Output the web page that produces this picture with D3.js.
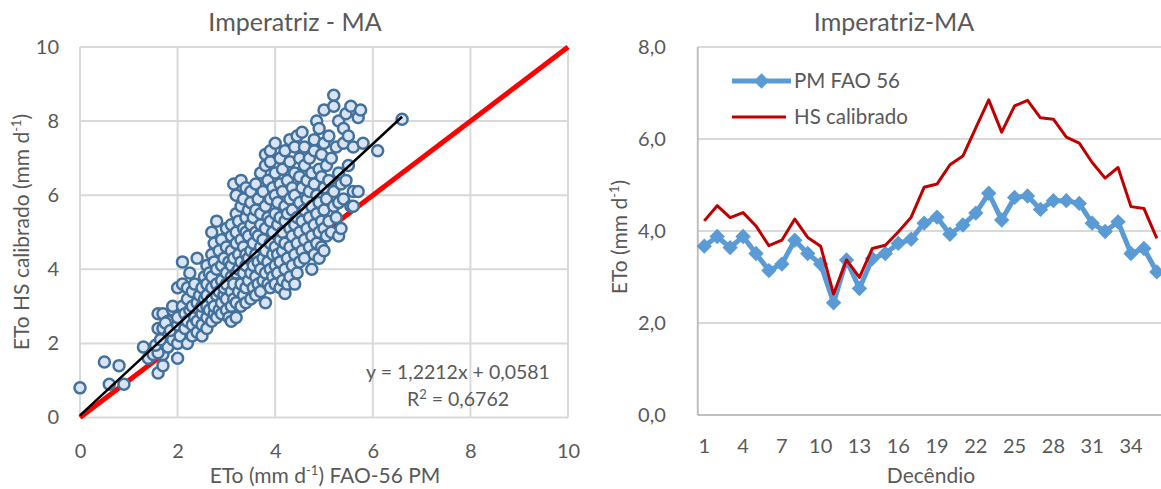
<!DOCTYPE html>
<html>
<head>
<meta charset="utf-8">
<script src="https://cdn.jsdelivr.net/npm/d3@7"></script>
<style>
  body { margin: 0; background: #fff; }
  text { font-family: Lato, "Open Sans", sans-serif; fill: #595959; }
</style>
</head>
<body>
<div id="chart"></div>
<script>
(function(){

	var width = 1161;
	var height = 489;

	// scatter: ETo FAO-56 PM (x) vs ETo HS calibrado (y)
	var scatterPts = [
		[0,0.8],[0.5,1.5],[0.8,1.4],[0.6,0.9],[0.9,0.9],
		[1.3,1.9],[1.4,1.6],[1.5,1.7],[1.6,1.2],[1.6,2.4],[1.6,2.8],[1.7,1.4],[1.7,1.7],[1.7,2.0],[1.7,2.4],[1.7,2.8],
		[1.8,1.9],[1.8,2.2],[1.8,2.6],[1.9,2.1],[1.9,2.9],[1.9,3.0],[1.6,1.75],[1.55,1.95],[1.75,2.55],[1.85,2.35],[1.65,2.1],
		[2.0,1.6],[2.0,2.0],[2.0,2.5],[2.0,2.7],[2.0,3.5],[2.05,2.2],[2.1,3.0],[2.1,3.6],[2.1,4.2],[2.15,2.4],[2.15,2.8],
		[2.2,2.0],[2.2,2.6],[2.2,3.2],[2.2,3.5],[2.25,2.9],[2.25,3.9],[2.3,2.2],[2.3,2.5],[2.3,3.0],[2.3,3.4],[2.35,2.7],
		[2.35,3.6],[2.4,2.3],[2.4,2.6],[2.4,3.1],[2.4,4.3],[2.45,2.9],[2.45,3.3],[2.5,2.2],[2.5,2.5],[2.5,2.8],[2.5,3.5],
		[2.5,3.0],[2.55,3.2],[2.55,3.8],
		[2.6,2.4],[2.6,2.7],[2.6,3.0],[2.6,3.3],[2.6,3.6],[2.6,4.1],[2.65,2.9],[2.65,3.9],[2.7,2.6],[2.7,3.2],[2.7,3.5],
		[2.7,3.8],[2.7,4.4],[2.7,5.0],[2.75,2.8],[2.75,3.0],[2.75,4.2],[2.75,4.7],[2.8,2.7],[2.8,3.3],[2.8,3.6],[2.8,4.0],
		[2.8,5.3],[2.85,2.9],[2.85,3.4],[2.85,4.5],[2.9,2.8],[2.9,3.1],[2.9,3.7],[2.9,4.1],[2.9,4.8],[2.95,3.3],[2.95,3.5],
		[2.95,4.3],[3.0,2.9],[3.0,3.2],[3.0,3.6],[3.0,3.9],[3.0,4.6],[3.0,5.1],[3.05,2.7],[3.05,4.2],
		[3.1,2.6],[3.1,3.0],[3.1,3.4],[3.1,3.8],[3.1,4.1],[3.1,4.5],[3.1,4.9],[3.1,5.2],[3.15,3.2],[3.15,3.6],[3.15,4.3],
		[3.15,6.3],[3.2,2.7],[3.2,3.1],[3.2,3.9],[3.2,4.7],[3.2,5.0],[3.2,5.5],[3.2,6.0],[3.25,3.4],[3.25,4.0],[3.25,4.4],
		[3.25,5.3],[3.3,3.0],[3.3,3.6],[3.3,4.2],[3.3,4.8],[3.3,5.7],[3.3,6.4],[3.35,3.3],[3.35,3.9],[3.35,4.6],[3.35,5.1],
		[3.35,5.9],[3.4,3.1],[3.4,3.5],[3.4,4.1],[3.4,4.4],[3.4,5.0],[3.4,5.4],[3.4,6.2],[3.45,3.7],[3.45,4.3],[3.45,4.9],
		[3.45,5.6],[3.5,3.2],[3.5,3.9],[3.5,4.5],[3.5,5.2],[3.5,5.8],[3.5,6.1],
		[3.55,3.5],[3.55,4.1],[3.55,4.7],[3.55,5.4],[3.6,3.3],[3.6,3.8],[3.6,4.4],[3.6,5.0],[3.6,5.6],[3.6,6.3],[3.65,3.6],
		[3.65,4.2],[3.65,4.9],[3.65,5.9],[3.7,3.4],[3.7,4.0],[3.7,4.6],[3.7,5.2],[3.7,5.5],[3.7,6.6],[3.75,3.7],[3.75,4.3],
		[3.75,4.8],[3.75,6.1],[3.8,3.1],[3.8,3.9],[3.8,4.5],[3.8,5.1],[3.8,5.7],[3.8,6.8],[3.8,7.1],[3.85,3.6],[3.85,4.2],
		[3.85,5.4],[3.85,6.4],[3.9,3.5],[3.9,4.0],[3.9,4.7],[3.9,5.3],[3.9,5.9],[3.9,6.9],[3.9,7.2],[3.95,3.8],[3.95,4.4],
		[3.95,5.0],[3.95,6.2],[4.0,3.6],[4.0,4.1],[4.0,4.6],[4.0,5.5],[4.0,6.0],[4.0,6.6],[4.0,7.4],
		[4.05,3.9],[4.05,4.4],[4.05,5.2],[4.05,5.8],[4.1,3.5],[4.1,4.2],[4.1,4.8],[4.1,5.4],[4.1,6.3],[4.1,7.0],[4.15,3.7],
		[4.15,4.5],[4.15,5.0],[4.15,6.1],[4.15,6.7],[4.2,3.35],[4.2,4.0],[4.2,4.7],[4.2,5.3],[4.2,5.7],[4.2,7.2],[4.25,3.6],
		[4.25,4.3],[4.25,5.5],[4.25,6.4],[4.3,3.8],[4.3,4.6],[4.3,5.1],[4.3,5.9],[4.3,6.9],[4.3,7.5],[4.35,4.1],[4.35,4.9],
		[4.35,5.6],[4.35,6.2],[4.4,3.6],[4.4,4.4],[4.4,5.2],[4.4,6.0],[4.4,6.6],[4.4,7.3],[4.45,3.9],[4.45,4.7],[4.45,5.4],
		[4.45,7.6],[4.5,4.2],[4.5,5.0],[4.5,5.8],[4.5,6.5],[4.5,7.0],
		[4.55,4.5],[4.55,5.3],[4.55,6.2],[4.55,7.7],[4.6,4.3],[4.6,4.8],[4.6,5.6],[4.6,6.8],[4.6,7.3],[4.65,5.1],[4.65,5.9],
		[4.65,6.4],[4.7,4.6],[4.7,5.4],[4.7,6.1],[4.7,7.0],[4.75,4.0],[4.75,4.9],[4.75,5.7],[4.75,6.6],[4.8,4.4],[4.8,5.2],
		[4.8,6.3],[4.8,7.2],[4.8,7.5],[4.85,4.7],[4.85,5.5],[4.85,6.0],[4.85,8.0],[4.9,4.3],[4.9,5.0],[4.9,5.8],[4.9,6.7],
		[4.9,7.8],[4.95,4.6],[4.95,5.3],[4.95,6.5],[4.95,7.1],[5.0,4.5],[5.0,5.1],[5.0,5.6],[5.0,6.2],[5.0,8.3],[5.0,7.4],
		[5.05,4.9],[5.05,5.9],[5.05,6.8],[5.1,5.3],[5.1,6.4],[5.1,7.6],[5.15,5.0],[5.15,7.0],[5.2,5.7],[5.2,6.1],[5.2,8.7],
		[5.2,8.4],[5.25,5.4],[5.25,7.3],[5.3,4.9],[5.3,5.8],[5.3,6.6],[5.3,8.0],[5.35,5.1],[5.35,6.3],[5.4,5.9],[5.4,7.8],
		[5.4,7.4],[5.45,6.4],[5.45,8.2],[5.5,6.8],[5.5,7.6],[5.55,5.7],[5.55,8.4],[5.6,6.1],[5.6,5.7],[5.6,7.3],[5.7,6.1],
		[5.7,8.1],[5.75,8.3],[5.8,7.4],[6.1,7.2],[6.6,8.05]
	];
	var trendSlope = 1.2212;
	var trendIntercept = 0.0581;
	var trendRange = [0, 6.6];
	var scatterTicks = [0, 2, 4, 6, 8, 10];

	// decendial series
	var decendios = d3.range(1, 37);
	var pmFao56 = [3.67,3.88,3.64,3.88,3.51,3.14,3.28,3.80,3.51,3.28,2.44,3.37,2.75,3.40,3.51,3.73,3.82,4.17,
		4.30,3.93,4.13,4.39,4.82,4.24,4.73,4.76,4.47,4.66,4.66,4.60,4.17,3.99,4.20,3.51,3.62,3.11];
	var hsCalibrado = [4.22,4.55,4.29,4.40,4.11,3.68,3.80,4.26,3.86,3.67,2.63,3.37,2.99,3.62,3.69,3.98,4.30,4.95,
		5.02,5.44,5.63,6.24,6.85,6.15,6.72,6.84,6.46,6.43,6.04,5.91,5.49,5.15,5.38,4.53,4.49,3.84];
	var lineTicks = [0, 2, 4, 6, 8];
	var catLabels = [1,4,7,10,13,16,19,22,25,28,31,34];

	var svg = d3.select("div#chart")
	.append("svg")
	.attr("width", width)
	.attr("height", height);

	var gridColor = "#d9d9d9";

	// ---------- left: scatter ----------
	var x = d3.scaleLinear().domain([0, 10]).range([80, 568]);
	var y = d3.scaleLinear().domain([0, 10]).range([417.5, 47]);
	var left = svg.append("g");

	left.selectAll(".vgrid").data(scatterTicks).enter().append("line")
		.attr("x1", d => x(d)).attr("x2", d => x(d))
		.attr("y1", y(0)).attr("y2", y(10))
		.attr("stroke", gridColor).attr("stroke-width", 2);
	left.selectAll(".hgrid").data(scatterTicks).enter().append("line")
		.attr("x1", x(0)).attr("x2", x(10))
		.attr("y1", d => y(d)).attr("y2", d => y(d))
		.attr("stroke", gridColor).attr("stroke-width", 2);

	var xAx = left.append("g").attr("transform", "translate(0," + y(0) + ")")
		.call(d3.axisBottom(x).tickValues(scatterTicks).tickSize(0).tickPadding(26));
	var yAx = left.append("g").attr("transform", "translate(" + x(0) + ",0)")
		.call(d3.axisLeft(y).tickValues(scatterTicks).tickSize(0).tickPadding(21));
	[xAx, yAx].forEach(function(a){
		a.select(".domain").remove();
		a.selectAll("text").attr("font-size", 20).attr("font-family", null).attr("fill", "#595959");
	});

	// 1:1 line
	left.append("line")
		.attr("x1", x(0)).attr("y1", y(0)).attr("x2", x(10)).attr("y2", y(10))
		.attr("stroke", "#ff0000").attr("stroke-width", 5);

	left.selectAll(".pt").data(scatterPts).enter().append("circle")
		.attr("class", "pt")
		.attr("cx", d => x(d[0]))
		.attr("cy", d => y(d[1]))
		.attr("r", 5.5)
		.attr("fill", "#dae3f3")
		.attr("stroke", "#41719c")
		.attr("stroke-width", 2.5);

	left.append("line")
		.attr("x1", x(trendRange[0])).attr("y1", y(trendSlope * trendRange[0] + trendIntercept))
		.attr("x2", x(trendRange[1])).attr("y2", y(trendSlope * trendRange[1] + trendIntercept))
		.attr("stroke", "#000").attr("stroke-width", 2.5);

	left.append("text").attr("x", 458).attr("y", 379).attr("text-anchor", "middle")
		.attr("font-size", 19.5).text("y = 1,2212x + 0,0581");
	var r2 = left.append("text").attr("x", 458).attr("y", 406).attr("text-anchor", "middle")
		.attr("font-size", 19.5);
	r2.append("tspan").text("R");
	r2.append("tspan").attr("font-size", 13).attr("dy", -7).text("2");
	r2.append("tspan").attr("dy", 7).text(" = 0,6762");

	left.append("text").attr("x", 295).attr("y", 31).attr("text-anchor", "middle")
		.attr("font-size", 25).text("Imperatriz - MA");

	var xt = left.append("text").attr("x", 325).attr("y", 483).attr("text-anchor", "middle")
		.attr("font-size", 21);
	xt.append("tspan").text("ETo (mm d");
	xt.append("tspan").attr("font-size", 13).attr("dy", -8).text("-1");
	xt.append("tspan").attr("dy", 8).text(") FAO-56 PM");

	var yt = left.append("text").attr("transform", "translate(29,232) rotate(-90)")
		.attr("text-anchor", "middle").attr("font-size", 21);
	yt.append("tspan").text("ETo HS calibrado (mm d");
	yt.append("tspan").attr("font-size", 13).attr("dy", -8).text("-1");
	yt.append("tspan").attr("dy", 8).text(")");

	// ---------- right: decendial lines ----------
	var x2 = d3.scaleBand().domain(decendios).range([697.8, 1163.3]);
	var y2 = d3.scaleLinear().domain([0, 8]).range([415, 47]);
	var cx = function(d){ return x2(d) + x2.bandwidth() / 2; };
	var right = svg.append("g");

	right.selectAll(".hgrid2").data(lineTicks.slice(1)).enter().append("line")
		.attr("x1", 697.8).attr("x2", width)
		.attr("y1", d => y2(d)).attr("y2", d => y2(d))
		.attr("stroke", gridColor).attr("stroke-width", 2);
	right.append("line").attr("x1", 697.8).attr("x2", width).attr("y1", y2(0)).attr("y2", y2(0))
		.attr("stroke", "#bfbfbf").attr("stroke-width", 2);
	right.append("line").attr("x1", 697.8).attr("x2", 697.8).attr("y1", y2(0)).attr("y2", y2(8))
		.attr("stroke", "#bfbfbf").attr("stroke-width", 2);

	var y2Ax = right.append("g").attr("transform", "translate(697.8,0)")
		.call(d3.axisLeft(y2).tickValues(lineTicks).tickSize(0).tickPadding(32)
			.tickFormat(d => d3.format(".1f")(d).replace(".", ",")));
	var x2Ax = right.append("g").attr("transform", "translate(0," + y2(0) + ")")
		.call(d3.axisBottom(x2).tickValues(catLabels).tickSize(0).tickPadding(24));
	[y2Ax, x2Ax].forEach(function(a){
		a.select(".domain").remove();
		a.selectAll("text").attr("font-size", 20).attr("font-family", null).attr("fill", "#595959");
	});

	var line = d3.line().x((d, i) => cx(decendios[i])).y(d => y2(d));

	right.append("path").datum(pmFao56)
		.attr("d", line).attr("fill", "none")
		.attr("stroke", "#5b9bd5").attr("stroke-width", 5).attr("stroke-linejoin", "round");
	var diamond = d3.symbol().type(d3.symbolDiamond2).size(150);
	right.selectAll(".dm").data(pmFao56).enter().append("path")
		.attr("d", diamond)
		.attr("transform", (d, i) => "translate(" + cx(decendios[i]) + "," + y2(d) + ")")
		.attr("fill", "#5b9bd5");

	right.append("path").datum(hsCalibrado)
		.attr("d", line).attr("fill", "none")
		.attr("stroke", "#c00000").attr("stroke-width", 3).attr("stroke-linejoin", "round");

	// legend
	right.append("line").attr("x1", 732).attr("x2", 791).attr("y1", 81).attr("y2", 81)
		.attr("stroke", "#5b9bd5").attr("stroke-width", 5);
	right.append("path").attr("d", diamond).attr("transform", "translate(761.5,81)").attr("fill", "#5b9bd5");
	right.append("text").attr("x", 794).attr("y", 88).attr("font-size", 20.5).text("PM FAO 56");
	right.append("line").attr("x1", 732).attr("x2", 786).attr("y1", 117).attr("y2", 117)
		.attr("stroke", "#c00000").attr("stroke-width", 3);
	right.append("text").attr("x", 794).attr("y", 124).attr("font-size", 20.5).text("HS calibrado");

	right.append("text").attr("x", 894).attr("y", 31).attr("text-anchor", "middle")
		.attr("font-size", 25).text("Imperatriz-MA");
	right.append("text").attr("x", 931).attr("y", 483).attr("text-anchor", "middle")
		.attr("font-size", 21).text("Decêndio");
	var y2t = right.append("text").attr("transform", "translate(627,237) rotate(-90)")
		.attr("text-anchor", "middle").attr("font-size", 21);
	y2t.append("tspan").text("ETo (mm d");
	y2t.append("tspan").attr("font-size", 13).attr("dy", -8).text("-1");
	y2t.append("tspan").attr("dy", 8).text(")");

})();
</script>
</body>
</html>
